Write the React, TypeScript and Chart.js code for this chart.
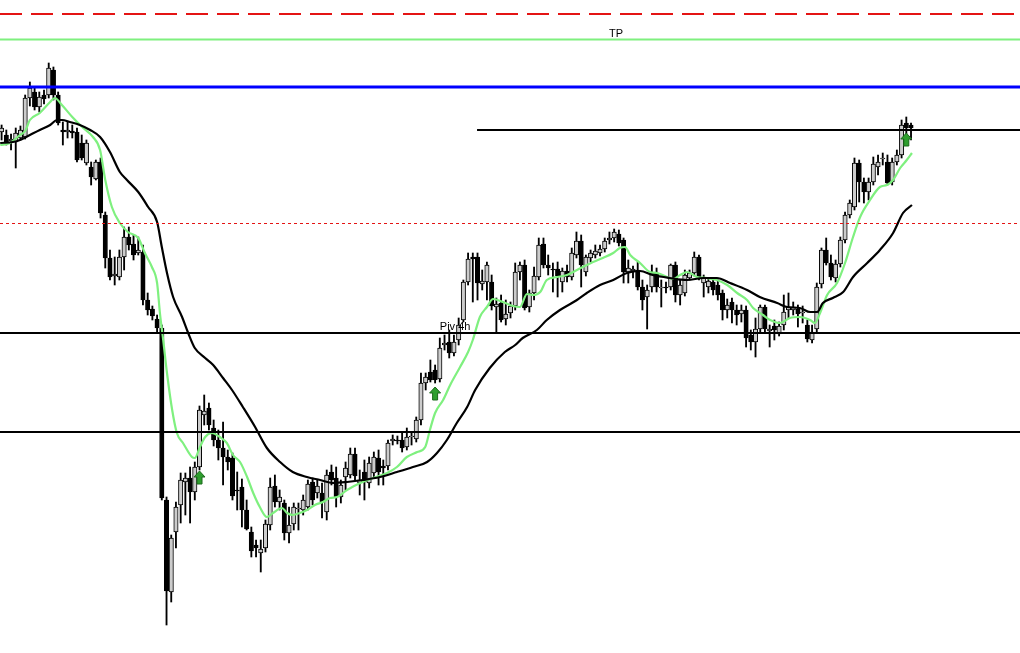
import React, { useEffect, useRef } from "react";
import { Chart, registerables } from "chart.js";

Chart.register(...registerables);

// Candle prices (one per bar, oldest first)
const OPEN = [
  521, 518, 512, 511, 515, 516, 555, 561, 546, 558,
  558, 583, 558, 523, 521, 522, 521, 510, 490, 486,
  474, 491, 438, 395, 377, 376, 396, 416, 409, 400,
  401, 353, 344, 334, 325, 153, 61, 121, 148, 171,
  175, 161, 186, 238, 245, 225, 213, 205, 196, 195,
  163, 166, 143, 121, 108, 100, 105, 128, 167, 151,
  150, 120, 129, 144, 143, 146, 171, 160, 160, 141,
  181, 175, 156, 176, 178, 199, 170, 181, 170, 180,
  195, 187, 187, 212, 213, 213, 206, 216, 214, 233,
  270, 281, 283, 274, 308, 311, 300, 313, 333, 371,
  396, 396, 369, 371, 371, 346, 350, 334, 340, 347,
  381, 388, 346, 360, 376, 409, 388, 384, 384, 371,
  382, 376, 398, 412, 381, 395, 398, 400, 404, 413,
  415, 419, 413, 381, 382, 383, 366, 356, 366, 380,
  365, 366, 366, 388, 358, 360, 375, 380, 396, 370,
  366, 371, 368, 360, 343, 351, 343, 339, 343, 318,
  311, 324, 346, 322, 327, 319, 328, 343, 343, 344,
  340, 328, 313, 324, 369, 403, 390, 375, 389, 413,
  438, 446, 490, 471, 461, 471, 486, 494, 491, 471,
  491, 498, 530, 528,
];
const HIGH = [
  528, 523, 519, 525, 527, 558, 571, 566, 561, 563,
  590, 586, 561, 531, 531, 528, 525, 518, 513, 491,
  493, 495, 441, 403, 396, 403, 426, 426, 418, 416,
  408, 360, 347, 338, 328, 156, 118, 151, 180, 180,
  186, 191, 247, 258, 250, 233, 223, 231, 203, 200,
  181, 174, 153, 126, 113, 113, 133, 175, 178, 163,
  153, 146, 150, 150, 158, 173, 175, 173, 170, 183,
  188, 186, 173, 191, 205, 205, 183, 193, 196, 201,
  203, 193, 213, 218, 217, 221, 225, 221, 236, 280,
  280, 293, 288, 315, 318, 323, 318, 335, 373, 400,
  400, 400, 383, 391, 378, 355, 358, 353, 351, 390,
  391, 393, 363, 386, 415, 415, 398, 390, 391, 385,
  388, 405, 421, 418, 398, 403, 408, 408, 415, 421,
  424, 423, 415, 393, 387, 391, 373, 368, 388, 385,
  373, 371, 389, 391, 373, 383, 383, 401, 398, 378,
  375, 375, 373, 363, 354, 355, 348, 348, 347, 323,
  335, 348, 348, 328, 333, 331, 358, 360, 351, 348,
  347, 333, 328, 370, 405, 415, 398, 393, 416, 441,
  453, 495, 493, 475, 475, 496, 498, 500, 498, 495,
  503, 533, 536, 530,
];
const LOW = [
  513, 508, 503, 485, 513, 514, 547, 543, 541, 549,
  555, 553, 528, 508, 515, 515, 491, 493, 488, 468,
  473, 435, 385, 373, 368, 373, 383, 403, 393, 398,
  348, 338, 333, 320, 153, 28, 51, 105, 130, 138,
  130, 153, 183, 228, 223, 207, 193, 168, 183, 153,
  143, 126, 123, 96, 96, 81, 101, 123, 146, 143,
  113, 110, 123, 123, 138, 143, 148, 155, 135, 133,
  168, 146, 150, 163, 175, 173, 158, 153, 165, 175,
  168, 168, 183, 208, 209, 201, 203, 208, 211, 228,
  263, 271, 270, 271, 303, 295, 297, 308, 331, 368,
  351, 353, 363, 353, 343, 320, 331, 328, 335, 343,
  373, 343, 341, 353, 373, 385, 378, 361, 356, 361,
  371, 373, 395, 366, 377, 391, 395, 397, 401, 409,
  411, 407, 370, 370, 375, 363, 343, 324, 361, 361,
  346, 360, 363, 351, 348, 357, 373, 377, 373, 356,
  360, 358, 353, 333, 335, 330, 328, 331, 306, 303,
  296, 321, 321, 306, 313, 317, 323, 335, 338, 326,
  330, 311, 310, 321, 365, 388, 373, 371, 386, 410,
  435, 443, 451, 450, 453, 468, 478, 488, 468, 468,
  488, 495, 518, 513,
];
const CLOSE = [
  525, 511, 514, 520, 523, 555, 565, 546, 556, 554,
  585, 558, 530, 521, 523, 520, 493, 495, 510, 476,
  491, 440, 395, 376, 379, 396, 416, 408, 398, 403,
  353, 343, 337, 325, 155, 62, 115, 146, 173, 175,
  161, 186, 243, 242, 228, 213, 205, 196, 191, 157,
  162, 143, 124, 102, 105, 104, 129, 166, 151, 156,
  120, 128, 146, 145, 153, 169, 153, 167, 151, 178,
  173, 156, 168, 185, 199, 177, 173, 171, 190, 196,
  181, 185, 210, 214, 212, 205, 216, 217, 233, 270,
  276, 273, 273, 305, 310, 300, 311, 328, 371, 394,
  394, 370, 372, 388, 347, 349, 333, 339, 347, 381,
  388, 345, 360, 377, 408, 388, 385, 383, 377, 382,
  376, 400, 412, 388, 396, 400, 402, 404, 412, 415,
  421, 410, 381, 385, 384, 366, 353, 363, 380, 366,
  366, 365, 388, 358, 368, 378, 380, 396, 375, 375,
  372, 363, 358, 343, 348, 343, 338, 343, 315, 311,
  324, 346, 324, 324, 323, 327, 341, 346, 346, 339,
  341, 314, 321, 366, 403, 390, 376, 389, 413, 438,
  450, 490, 471, 461, 471, 489, 491, 495, 470, 491,
  498, 528, 525, 525,
];

// Moving averages: [bar index, value]
const FAST_MA = [
  [-0.3, 508], [1.8, 510], [3.9, 518], [5.0, 522], [6.0, 533], [8.1, 540], [10.3, 551], [11.3, 555],
  [12.8, 548], [15.0, 536], [17.1, 526], [19.4, 516], [20.9, 503], [22.0, 473], [23.4, 446], [25.1, 430],
  [26.8, 421], [29.0, 415], [30.4, 400], [31.9, 386], [33.0, 370], [33.6, 340], [34.3, 313], [35.1, 280],
  [36.2, 243], [37.2, 220], [38.5, 210], [40.4, 196], [41.0, 195], [42.1, 206], [43.2, 216], [44.6, 220],
  [46.3, 216], [47.8, 210], [49.1, 198], [50.6, 191], [52.1, 176], [53.4, 160], [54.8, 146], [56.3, 136],
  [57.6, 140], [59.5, 145], [60.6, 140], [61.8, 138], [63.3, 140], [64.8, 143], [66.5, 148], [68.2, 151],
  [69.7, 155], [71.2, 156], [73.3, 163], [76.1, 170], [78.8, 175], [81.8, 180], [83.9, 186], [86.0, 196],
  [88.2, 201], [89.9, 206], [90.9, 223], [92.0, 240], [93.7, 253], [95.2, 268], [97.3, 286], [99.0, 301],
  [100.0, 313], [101.5, 336], [103.0, 346], [104.3, 354], [106.4, 351], [108.5, 347], [110.0, 346], [111.5, 359],
  [112.8, 358], [114.3, 361], [115.7, 373], [117.9, 376], [120.0, 378], [122.1, 383], [124.2, 388], [125.5, 391],
  [127.6, 395], [129.8, 400], [131.2, 405], [132.3, 406], [133.4, 398], [135.5, 390], [137.6, 381], [139.1, 380],
  [141.2, 376], [142.5, 374], [144.0, 378], [145.5, 381], [147.6, 376], [149.7, 375], [151.8, 373], [154.0, 368],
  [156.1, 360], [158.2, 353], [159.5, 345], [161.6, 338], [163.1, 333], [165.2, 330], [167.3, 335], [169.4, 336],
  [171.6, 333], [172.6, 330], [173.7, 340], [175.2, 358], [177.3, 370], [179.0, 390], [180.7, 416], [182.2, 436],
  [184.3, 453], [186.4, 466], [187.9, 468], [189.2, 473], [190.7, 485], [192.1, 493], [193.2, 500],
];
const SLOW_MA = [
  [-0.3, 510], [2.4, 511], [3.9, 513], [6.0, 518], [8.1, 523], [10.3, 528], [11.8, 533], [12.8, 533],
  [14.5, 531], [16.6, 528], [18.8, 523], [20.9, 516], [23.0, 501], [25.1, 481], [26.6, 473], [29.0, 461],
  [31.1, 446], [33.0, 431], [34.0, 406], [35.1, 380], [36.4, 356], [38.3, 336], [39.6, 320], [41.0, 305],
  [43.2, 295], [44.9, 288], [47.0, 275], [48.9, 263], [51.2, 246], [53.8, 226], [56.3, 205], [59.1, 191],
  [61.8, 181], [64.8, 176], [67.6, 173], [70.3, 170], [73.3, 171], [76.7, 173], [80.3, 176], [83.9, 181],
  [87.3, 186], [90.3, 191], [92.4, 200], [94.5, 213], [96.6, 230], [98.8, 246], [100.5, 263], [103.6, 285],
  [106.8, 301], [109.0, 308], [110.6, 315], [113.6, 323], [115.7, 333], [118.5, 343], [122.1, 353], [124.2, 360],
  [127.0, 368], [129.8, 373], [132.7, 380], [135.5, 382], [138.2, 378], [141.8, 375], [145.5, 373], [148.9, 375],
  [151.8, 375], [154.6, 370], [158.2, 363], [160.9, 356], [164.6, 350], [166.7, 346], [169.4, 345], [171.6, 341],
  [173.1, 341], [174.3, 350], [176.4, 355], [178.6, 361], [180.7, 376], [183.7, 390], [186.4, 403], [189.2, 420],
  [191.3, 440], [193.2, 448],
];

// Horizontal levels
const LEVEL_STOP = 639;
const LEVEL_TP = 613.5;
const LEVEL_BLUE = 566;
const LEVEL_RES = 523;
const LEVEL_RES_START = 100.9;
const LEVEL_DASH = 429.5;
const LEVEL_PIV = 320;
const LEVEL_SUP = 221;

// Signal arrows: bar index and tip price
const ARROW_IDX = [42, 92, 192];
const ARROW_TIP = [182, 266, 520];

// Text labels
const TP_LABEL = "TP";
const TP_LABEL_IDX = 130.4;
const PIV_LABEL = "Piv 4h";
const PIV_LABEL_IDX = 93.0;

const X_MIN = -0.34;
const X_MAX = 216.13;
const Y_MIN = 0;
const Y_MAX = 653;

const BULL = "#cccccc";
const BEAR = "#000000";
const MA_GREEN = "#7ff07f";

export default function App() {
  const ref = useRef<HTMLCanvasElement | null>(null);

  useEffect(() => {
    document.body.style.margin = "0";
    document.body.style.background = "#ffffff";
    const canvas = ref.current;
    if (!canvas) return;

    const bodies = OPEN.map((o, i) => ({ x: i, y: [o, CLOSE[i]] }));
    const wicks = OPEN.map((o, i) => ({
      x: i,
      y: [Math.min(LOW[i], o, CLOSE[i]), Math.max(HIGH[i], o, CLOSE[i])],
    }));
    const bodyColors = OPEN.map((o, i) => (CLOSE[i] >= o ? BULL : BEAR));

    const hline = (y: number, x0: number = X_MIN, x1: number = X_MAX) => [
      { x: x0, y },
      { x: x1, y },
    ];
    const lineDs = (
      label: string,
      data: any[],
      color: string,
      width: number,
      dash: number[] = [],
      smooth = false
    ) => ({
      type: "line" as const,
      label,
      data,
      borderColor: color,
      borderWidth: width,
      borderDash: dash,
      pointRadius: 0,
      fill: false,
      tension: 0,
      cubicInterpolationMode: smooth ? ("monotone" as const) : ("default" as const),
      order: 0,
    });

    const overlay = {
      id: "overlay",
      afterDatasetsDraw(chart: any) {
        const { ctx, scales } = chart;
        const sx = scales.x;
        const sy = scales.y;
        ctx.save();
        ARROW_IDX.forEach((idx, k) => {
          const cx = sx.getPixelForValue(idx);
          const ty = sy.getPixelForValue(ARROW_TIP[k]);
          ctx.beginPath();
          ctx.moveTo(cx, ty);
          ctx.lineTo(cx + 5.5, ty + 6);
          ctx.lineTo(cx + 2.5, ty + 6);
          ctx.lineTo(cx + 2.5, ty + 13);
          ctx.lineTo(cx - 2.5, ty + 13);
          ctx.lineTo(cx - 2.5, ty + 6);
          ctx.lineTo(cx - 5.5, ty + 6);
          ctx.closePath();
          ctx.fillStyle = "#2e9e2e";
          ctx.fill();
          ctx.strokeStyle = "#1c6a1c";
          ctx.lineWidth = 1;
          ctx.stroke();
        });
        ctx.font = '11px "Liberation Sans", Arial, sans-serif';
        ctx.fillStyle = "#000000";
        ctx.textBaseline = "alphabetic";
        ctx.textAlign = "center";
        ctx.fillText(TP_LABEL, sx.getPixelForValue(TP_LABEL_IDX), sy.getPixelForValue(LEVEL_TP) - 3);
        ctx.textAlign = "left";
        ctx.fillText(PIV_LABEL, sx.getPixelForValue(PIV_LABEL_IDX), sy.getPixelForValue(LEVEL_PIV) - 3);
        ctx.restore();
      },
    };

    const chart = new Chart(canvas, {
      type: "bar",
      data: {
        datasets: [
          {
            type: "bar",
            label: "wick",
            data: wicks as any,
            backgroundColor: "#000000",
            borderWidth: 0,
            barThickness: 1.2,
            grouped: false,
            order: 11,
          },
          {
            type: "bar",
            label: "body",
            data: bodies as any,
            backgroundColor: bodyColors,
            borderColor: "#000000",
            borderWidth: 1,
            borderSkipped: false,
            barThickness: 4.4,
            minBarLength: 1,
            grouped: false,
            order: 10,
          },
          lineDs("stop", hline(LEVEL_STOP), "#e41414", 2, [22, 9]),
          lineDs("tp", hline(LEVEL_TP), MA_GREEN, 2),
          lineDs("blue", hline(LEVEL_BLUE), "#0000ff", 3),
          lineDs("res", hline(LEVEL_RES, LEVEL_RES_START), "#000000", 2),
          lineDs("dash", hline(LEVEL_DASH), "#e41414", 1, [3, 3]),
          lineDs("piv", hline(LEVEL_PIV), "#000000", 2),
          lineDs("sup", hline(LEVEL_SUP), "#000000", 2),
          lineDs("slow", SLOW_MA.map(([x, y]) => ({ x, y })), "#000000", 2.2, [], true),
          lineDs("fast", FAST_MA.map(([x, y]) => ({ x, y })), MA_GREEN, 2.2, [], true),
        ] as any,
      },
      options: {
        responsive: false,
        animation: false,
        events: [],
        layout: { padding: 0 },
        plugins: {
          legend: { display: false },
          tooltip: { enabled: false },
          title: { display: false },
        },
        scales: {
          x: { type: "linear", min: X_MIN, max: X_MAX, display: false, offset: false },
          y: { type: "linear", min: Y_MIN, max: Y_MAX, display: false },
        },
      } as any,
      plugins: [overlay],
    });

    return () => chart.destroy();
  }, []);

  return <canvas ref={ref} width={1020} height={653} style={{ display: "block" }} />;
}
